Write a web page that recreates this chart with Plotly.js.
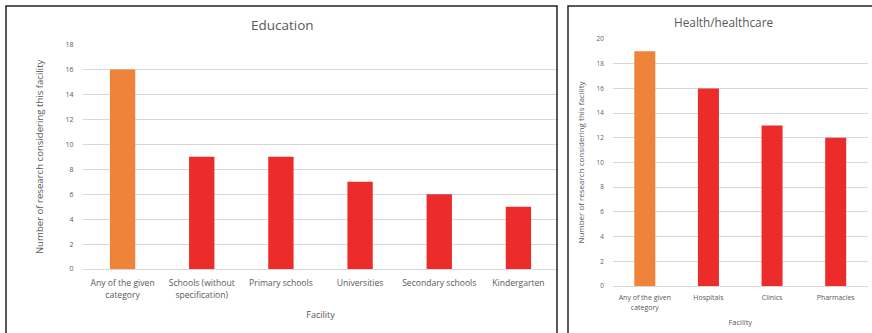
<!DOCTYPE html>
<html>
<head>
<meta charset="utf-8">
<script src="https://cdn.plot.ly/plotly-3.0.1.min.js"></script>
<style>html,body{margin:0;padding:0;background:#fff;}#chart{width:872px;height:333px;}</style>
</head>
<body>
<div id="chart"></div>
<script>
const eduCategories = ["Any of the given<br>category", "Schools (without<br>specification)", "Primary schools", "Universities", "Secondary schools", "Kindergarten"];
const eduValues = [16, 9, 9, 7, 6, 5];
const eduColors = ["#F0833A", "#EC2B2B", "#EC2B2B", "#EC2B2B", "#EC2B2B", "#EC2B2B"];
const eduTicks = [0, 2, 4, 6, 8, 10, 12, 14, 16, 18];

const healthCategories = ["Any of the given<br>category", "Hospitals", "Clinics", "Pharmacies"];
const healthValues = [19, 16, 13, 12];
const healthColors = ["#F0833A", "#EC2B2B", "#EC2B2B", "#EC2B2B"];
const healthTicks = [0, 2, 4, 6, 8, 10, 12, 14, 16, 18, 20];

const W = 872, H = 333;
const px = v => v / W;
const py = v => 1 - v / H;
const grey = "#595959";
const fontFam = "'Open Sans', 'Liberation Sans', sans-serif";

const traces = [
  {type: "bar", x: eduCategories, y: eduValues, marker: {color: eduColors}, width: 0.32, xaxis: "x", yaxis: "y", hoverinfo: "none"},
  {type: "bar", x: healthCategories, y: healthValues, marker: {color: healthColors}, width: 0.33, xaxis: "x2", yaxis: "y2", hoverinfo: "none"}
];

const layout = {
  width: W, height: H,
  margin: {l: 0, r: 0, t: 0, b: 0},
  paper_bgcolor: "#fff", plot_bgcolor: "#fff",
  showlegend: false,
  font: {family: fontFam, color: grey},
  xaxis: {
    domain: [px(83), px(558)], anchor: "y",
    showgrid: false, showline: true, linecolor: "#D9D9D9", linewidth: 1,
    ticks: "outside", ticklen: 6, tickcolor: "rgba(0,0,0,0)",
    tickfont: {size: 8.6, color: grey}, tickangle: 0,
    title: {text: "Facility", font: {size: 9, color: grey}, standoff: 12},
    automargin: false
  },
  yaxis: {
    domain: [py(269), py(44.7)], anchor: "x",
    range: [0, 18], tickvals: eduTicks,
    showgrid: true, gridcolor: "#D9D9D9", gridwidth: 1, zeroline: false,
    ticks: "outside", ticklen: 7, tickcolor: "rgba(0,0,0,0)",
    tickfont: {size: 7, color: grey},
    title: {text: "Number of research considering this facility", font: {size: 9.6, color: grey}, standoff: 20},
    automargin: false
  },
  xaxis2: {
    domain: [px(613), px(867.5)], anchor: "y2",
    showgrid: false, showline: true, linecolor: "#D9D9D9", linewidth: 1,
    ticks: "outside", ticklen: 5, tickcolor: "rgba(0,0,0,0)",
    tickfont: {size: 7, color: grey}, tickangle: 0,
    title: {text: "Facility", font: {size: 7.5, color: grey}, standoff: 9},
    automargin: false
  },
  yaxis2: {
    domain: [py(286), py(39)], anchor: "x2",
    range: [0, 20], tickvals: healthTicks,
    showgrid: true, gridcolor: "#D9D9D9", gridwidth: 1, zeroline: false,
    ticks: "outside", ticklen: 7, tickcolor: "rgba(0,0,0,0)",
    tickfont: {size: 6.3, color: grey},
    title: {text: "Number of research considering this facility", font: {size: 8, color: grey}, standoff: 10},
    automargin: false
  },
  annotations: [
    {text: "Education", xref: "paper", yref: "paper", x: px(282.5), y: py(25), xanchor: "center", yanchor: "middle", showarrow: false, font: {size: 13.5, color: grey}},
    {text: "Health/healthcare", xref: "paper", yref: "paper", x: px(723), y: py(22), xanchor: "center", yanchor: "middle", showarrow: false, font: {size: 11.8, color: grey}}
  ],
  shapes: [
    {type: "rect", xref: "paper", yref: "paper", x0: px(6), x1: px(557), y0: py(345), y1: py(6), line: {color: "#222", width: 1.5}, fillcolor: "rgba(0,0,0,0)", layer: "above"},
    {type: "rect", xref: "paper", yref: "paper", x0: px(568), x1: px(885), y0: py(345), y1: py(6), line: {color: "#222", width: 1.5}, fillcolor: "rgba(0,0,0,0)", layer: "above"}
  ]
};

Plotly.newPlot("chart", traces, layout, {staticPlot: true, displayModeBar: false});
</script>
</body>
</html>
